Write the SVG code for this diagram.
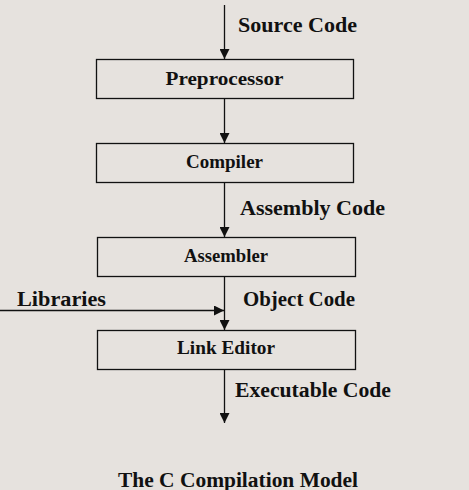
<svg xmlns="http://www.w3.org/2000/svg" width="469" height="490" viewBox="0 0 469 490">
<defs>
<style>
.box{fill:none;stroke:#111;stroke-width:1.3}
.line{stroke:#111;stroke-width:1.3;fill:none}
.nt{font-family:"Liberation Serif","Times New Roman",serif;font-weight:bold;font-size:19px;fill:#111;text-anchor:middle}
.lb{font-family:"Liberation Serif","Times New Roman",serif;font-weight:bold;font-size:20px;fill:#111}
</style>
<marker id="ah" viewBox="0 0 10 10" refX="10" refY="5" markerWidth="10" markerHeight="10" markerUnits="userSpaceOnUse" orient="auto">
<path d="M0,0 L10,5 L0,10 Z" fill="#111"/>
</marker>
</defs>
<rect width="469" height="490" fill="#e6e2de"/>
<g id="connectors">
<line class="line" x1="224.5" y1="5" x2="224.5" y2="59" marker-end="url(#ah)"/>
<line class="line" x1="224.5" y1="98" x2="224.5" y2="143" marker-end="url(#ah)"/>
<line class="line" x1="224.5" y1="182" x2="224.5" y2="237" marker-end="url(#ah)"/>
<line class="line" x1="224.5" y1="276" x2="224.5" y2="330" marker-end="url(#ah)"/>
<line class="line" x1="0" y1="310.5" x2="224" y2="310.5" marker-end="url(#ah)"/>
<line class="line" x1="224.5" y1="369" x2="224.5" y2="423" marker-end="url(#ah)"/>
<text class="lb" x="238" y="32" textLength="119" lengthAdjust="spacingAndGlyphs">Source Code</text>
<text class="lb" x="240" y="215" textLength="145" lengthAdjust="spacingAndGlyphs">Assembly Code</text>
<text class="lb" x="17" y="306" textLength="89" lengthAdjust="spacingAndGlyphs">Libraries</text>
<text class="lb" x="243" y="306" textLength="112" lengthAdjust="spacingAndGlyphs">Object Code</text>
<text class="lb" x="235" y="397" textLength="156" lengthAdjust="spacingAndGlyphs">Executable Code</text>
</g>
<g id="preprocessor">
<rect class="box" x="96.5" y="59.5" width="257" height="39"/>
<text class="nt" x="224.5" y="85" textLength="118" lengthAdjust="spacingAndGlyphs">Preprocessor</text>
</g>
<g id="compiler">
<rect class="box" x="96.5" y="143.5" width="257" height="39"/>
<text class="nt" x="224.5" y="168" textLength="77" lengthAdjust="spacingAndGlyphs">Compiler</text>
</g>
<g id="assembler">
<rect class="box" x="97.5" y="237.5" width="258" height="39"/>
<text class="nt" x="226" y="262" textLength="84" lengthAdjust="spacingAndGlyphs">Assembler</text>
</g>
<g id="link-editor">
<rect class="box" x="97.5" y="330.5" width="258" height="39"/>
<text class="nt" x="226" y="354" textLength="98" lengthAdjust="spacingAndGlyphs">Link Editor</text>
</g>
<text class="lb" x="118" y="487" textLength="240" lengthAdjust="spacingAndGlyphs">The C Compilation Model</text>
</svg>
